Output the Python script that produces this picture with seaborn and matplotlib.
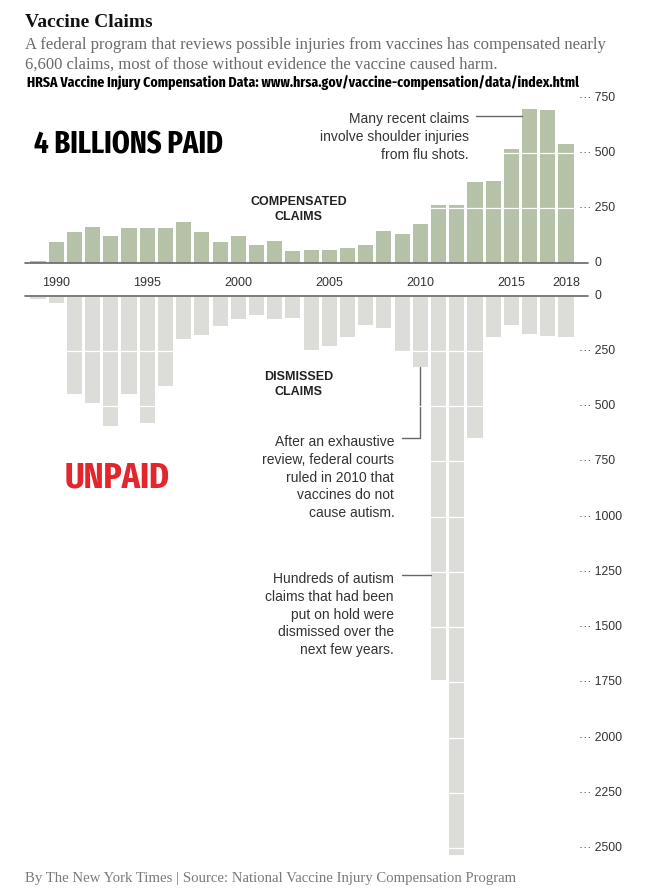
import matplotlib
matplotlib.use('Agg')
import matplotlib.pyplot as plt
import matplotlib.font_manager as fm
import matplotlib.transforms as mtransforms
import seaborn as sns

# data
years = list(range(1989, 2019))
compensated = [10, 98, 141, 167, 126, 162, 159, 162, 189, 144,
               97, 124, 85, 103, 55, 61, 59, 68, 82, 147,
               133, 180, 267, 265, 370, 373, 518, 700, 697, 541]
dismissed = [13, 33, 445, 487, 588, 445, 575, 407, 198, 179,
             139, 104, 87, 104, 100, 247, 227, 189, 131, 148,
             252, 324, 1737, 2531, 645, 189, 133, 175, 181, 186]
year_labels = [1990, 1995, 2000, 2005, 2010, 2015, 2018]
top_ticks = [250, 500, 750]
bottom_ticks = [250, 500, 750, 1000, 1250, 1500, 1750, 2000, 2250, 2500]

GREEN = '#b6c2a7'
GRAY = '#dcdcd9'
INK = '#333333'

sns.set_style('white')
plt.rcParams['font.family'] = ['Liberation Sans', 'DejaVu Sans']
serif = 'Liberation Serif'


def find_condensed():
    # look for any bold condensed / narrow face that is installed
    best = None
    for f in fm.fontManager.ttflist:
        key = (f.fname + ' ' + f.name + ' ' + str(f.stretch)).lower().replace('-', '').replace('_', '')
        if 'extracondensed' in key or 'ultracondensed' in key:
            wr = 0
        elif 'semicondensed' in key:
            wr = 2
        elif 'condensed' in key or 'narrow' in key:
            wr = 1
        else:
            continue
        fn = f.fname.lower()
        if 'semibold' in fn or 'demibold' in fn:
            br = 2
        elif 'extrabold' in fn or 'black' in fn:
            br = 1
        elif 'bold' in fn or str(f.weight) in ('bold', '700'):
            br = 0
        else:
            br = 3
        if 'italic' in fn or 'oblique' in fn:
            continue
        score = (wr, br)
        if best is None or score < best[0]:
            best = (score, f.fname)
    return best[1] if best else None


cfile = find_condensed()
if cfile:
    cond = dict(fontproperties=fm.FontProperties(fname=cfile))
else:
    cond = dict(family='Liberation Sans', fontweight='bold')

W, H = 647, 889
fig = plt.figure(figsize=(W / 100, H / 100), dpi=100)


def fx(px):
    return px / W


def fy(py):
    return 1 - py / H


ax1 = fig.add_axes([fx(25), fy(263.3), (588 - 25) / W, (263.3 - 96.1) / H])
ax2 = fig.add_axes([fx(25), fy(861.5), (588 - 25) / W, (861.5 - 295.7) / H])

sns.barplot(x=years, y=compensated, color=GREEN, saturation=1, width=0.83,
            linewidth=0, ax=ax1)
sns.barplot(x=years, y=dismissed, color=GRAY, saturation=1, width=0.83,
            linewidth=0, ax=ax2)

ax1.set_ylim(0, 760)
ax2.set_ylim(2560, 0)

for ax, ticks in [(ax1, top_ticks), (ax2, bottom_ticks)]:
    ax.set_xlim(-0.714, 30.208)
    ax.set_yticks([0] + ticks)
    ax.grid(axis='y', color='white', lw=0.9)
    ax.grid(axis='x', visible=False)
    ax.set_axisbelow(False)
    ax.tick_params(axis='y', length=0, labelleft=False)
    ax.set_xlabel('')
    ax.set_ylabel('')
    for s in ax.spines.values():
        s.set_visible(False)
    ax.axhline(0, color='#666666', lw=1.2, zorder=5, clip_on=False)
    tr = mtransforms.blended_transform_factory(ax.transAxes, ax.transData)
    for v in ticks:
        ax.text(0.984, v, '\u00b7\u00b7\u00b7 ' + str(v), transform=tr,
                ha='left', va='center', fontsize=8.8, color=INK)
    ax.text(1.0124, 0, '0', transform=tr, ha='left', va='center',
            fontsize=8.8, color=INK)

ax1.set_xticks([y - years[0] for y in year_labels], [str(y) for y in year_labels])
ax1.tick_params(axis='x', length=0, pad=10, labelsize=9, labelcolor=INK)
ax2.set_xticks([])

# section labels
ax1.text(14.33, 243, 'COMPENSATED\nCLAIMS', ha='center', va='center',
         fontsize=9, fontweight='bold', color='#222222', linespacing=1.3)
ax2.text(14.33, 401, 'DISMISSED\nCLAIMS', ha='center', va='center',
         fontsize=9, fontweight='bold', color='#222222', linespacing=1.3)

# annotations
LEAD = '#666666'
ax1.text(23.67, 573, 'Many recent claims\ninvolve shoulder injuries\nfrom flu shots.',
         ha='right', va='center', multialignment='right', fontsize=10,
         color=INK, linespacing=1.35)
ax1.plot([24.06, 26.585], [670, 670], color=LEAD, lw=1, clip_on=False)

ax2.text(19.57, 823, 'After an exhaustive\nreview, federal courts\nruled in 2010 that\n'
         'vaccines do not\ncause autism.', ha='right', va='center',
         multialignment='right', fontsize=10, color=INK, linespacing=1.33)
ax2.plot([19.98, 21.0, 21.0], [645, 645, 324], color=LEAD, lw=1, clip_on=False)

ax2.text(19.55, 1443, 'Hundreds of autism\nclaims that had been\nput on hold were\n'
         'dismissed over the\nnext few years.', ha='right', va='center',
         multialignment='right', fontsize=10, color=INK, linespacing=1.33)
ax2.plot([19.98, 21.585], [1262, 1262], color=LEAD, lw=1, clip_on=False)

# header / footer text
renderer = fig.canvas.get_renderer()


def fit(t, width_px):
    w = t.get_window_extent(renderer).width
    t.set_fontsize(t.get_fontsize() * width_px / w)


t = fig.text(fx(25), fy(27), 'Vaccine Claims', family=serif, fontweight='bold',
             fontsize=14, color='#121212', va='baseline')
fit(t, 128)
t = fig.text(fx(25), fy(49), 'A federal program that reviews possible injuries from vaccines '
             'has compensated nearly', family=serif, fontsize=11, color='#6b6b6b',
             va='baseline')
fit(t, 582)
sub_size = t.get_fontsize()
fig.text(fx(25), fy(69), '6,600 claims, most of those without evidence the vaccine caused harm.',
         family=serif, fontsize=sub_size, color='#6b6b6b', va='baseline')
t = fig.text(fx(27), fy(88), 'HRSA Vaccine Injury Compensation Data: '
             'www.hrsa.gov/vaccine-compensation/data/index.html',
             fontsize=10, color='black', va='baseline', **cond)
fit(t, 553)
t = fig.text(fx(34), fy(153), '4 BILLIONS PAID', fontsize=22,
             color='black', va='baseline', **cond)
fit(t, 189)
t = fig.text(fx(65), fy(487), 'UNPAID', fontsize=26,
             color='#e3262b', va='baseline', **cond)
fit(t, 105)
t = fig.text(fx(25), fy(882), 'By The New York Times | Source: National Vaccine Injury '
             'Compensation Program', family=serif, fontsize=9, color='#7a7a7a',
             va='baseline')
fit(t, 490)

fig.savefig('out.png', dpi=100)
